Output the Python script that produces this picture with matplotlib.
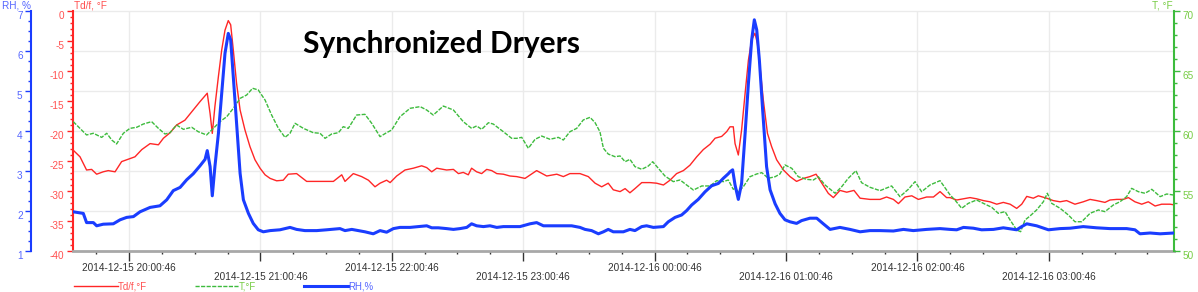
import matplotlib
matplotlib.use("Agg")
import matplotlib.pyplot as plt
import matplotlib.dates as mdates
import pandas as pd
from matplotlib.ticker import MultipleLocator
from matplotlib.transforms import blended_transform_factory

plt.rcParams["font.family"] = ["Liberation Sans", "DejaVu Sans"]
plt.rcParams["axes.unicode_minus"] = False

# logger readings, time in minutes after 2014-12-15 20:00
rh_min = [-24.7, -20.1, -18.6, -15.5, -14.0, -11.0, -6.4, -3.3, -0.3, 2.8, 5.8, 10.4, 14.9, 18.0,
          21.0, 24.1, 27.1, 30.1, 33.2, 35.5, 36.5, 37.8, 38.8, 40.0, 41.6, 43.1, 44.6, 46.1, 47.2,
          48.4, 49.9, 51.5, 53.0, 55.3, 57.5, 59.8, 62.1, 65.2, 69.7, 74.3,
          77.3, 81.1, 86.5, 91.0, 97.1, 99.4, 102.5, 105.5, 108.5, 112.3, 115.4, 118.4, 121.5, 124.5,
          129.1, 132.9, 136.7, 139.0, 142.0, 145.8, 148.9, 151.9, 155.0, 157.2, 159.5, 162.6, 165.6,
          168.7, 171.7,
          174.7, 179.3, 183.9, 186.9, 190.0, 194.5, 199.1, 202.9, 206.7, 209.0, 212.0, 215.1, 217.4,
          219.6, 221.9, 226.5, 229.5, 231.8, 234.9, 237.1, 240.2, 244.8, 247.0, 250.1, 253.1, 255.4,
          257.7, 260.7, 263.8, 266.8, 269.9, 272.2, 274.4,
          275.2, 276.4, 277.5, 279.0, 280.5, 282.1, 283.6, 285.1, 286.3, 287.4, 288.6, 290.1, 291.9,
          293.5, 295.8, 298.0, 300.3, 302.6, 305.6, 307.9, 311.7, 314.8, 317.8, 320.9, 325.4, 330.0,
          334.6, 339.1, 343.7, 349.8, 354.4, 358.9, 365.0, 371.1,
          375.7, 378.7, 381.8, 386.3, 390.1, 395.5, 400.0, 406.1, 408.4, 410.7, 415.2, 420.6, 425.9,
          430.5, 436.5, 442.6, 448.7, 456.3, 460.1, 462.4, 467.0, 471.6, 477.9]
rh = [1.98, 1.94, 1.71, 1.71, 1.63, 1.67, 1.68, 1.78, 1.84, 1.86, 1.98, 2.09, 2.13, 2.28,
      2.51, 2.59, 2.78, 2.93, 3.13, 3.29, 3.51, 3.11, 2.38, 3.11, 3.94, 4.94, 5.94, 6.44, 6.28,
      5.36, 4.19, 2.94, 2.28, 1.94, 1.69, 1.53, 1.48, 1.51, 1.53, 1.59,
      1.54, 1.51, 1.51, 1.53, 1.56, 1.51, 1.54, 1.51, 1.48, 1.43, 1.51, 1.47, 1.56, 1.59,
      1.59, 1.61, 1.63, 1.58, 1.58, 1.56, 1.54, 1.56, 1.59, 1.68, 1.63, 1.61, 1.63,
      1.59, 1.61,
      1.61, 1.61, 1.68, 1.71, 1.63, 1.63, 1.63, 1.63, 1.59, 1.54, 1.51, 1.43, 1.48,
      1.54, 1.48, 1.48, 1.54, 1.51, 1.61, 1.63, 1.59, 1.61, 1.73, 1.84, 1.90, 2.01,
      2.15, 2.29, 2.48, 2.63, 2.69, 2.82, 2.93,
      2.98, 3.03, 2.65, 2.29, 2.69, 3.94, 5.19, 6.28, 6.78, 6.53, 5.78, 4.53, 3.11,
      2.53, 2.18, 1.94, 1.78, 1.73, 1.69, 1.76, 1.82, 1.82, 1.68, 1.54, 1.59, 1.54,
      1.48, 1.51, 1.51, 1.50, 1.54, 1.51, 1.54, 1.56,
      1.54, 1.53, 1.59, 1.57, 1.53, 1.54, 1.58, 1.53, 1.61, 1.68, 1.63, 1.53, 1.56,
      1.57, 1.61, 1.58, 1.56, 1.56, 1.53, 1.43, 1.45, 1.43, 1.45]

td_min = [-24.7, -21.6, -18.6, -16.3, -14.0, -11.0, -8.7, -5.6, -2.6, 0.5, 3.5, 6.6, 10.4, 14.2,
          16.5, 19.5, 22.5, 26.3, 29.4, 33.2, 36.5, 37.8, 38.8, 40.0, 41.6, 43.1, 44.6, 46.1, 47.2,
          48.4, 49.9, 51.5, 53.7, 56.0, 58.3, 60.6, 62.9, 65.2, 68.2, 71.2, 73.5,
          77.3, 81.9, 86.5, 91.0, 94.1, 97.9, 99.4, 103.2, 107.0, 110.1, 113.1, 115.4, 118.4, 120.0,
          123.0, 126.8, 130.6, 134.4, 136.7, 139.0, 141.3, 145.8, 148.9, 151.2, 153.4, 155.7, 157.2,
          159.5, 161.8, 164.1, 166.4, 168.7, 171.7,
          174.7, 177.8, 181.6, 186.9, 191.5, 196.1, 199.1, 202.1, 206.7, 210.5, 213.6, 216.6, 219.6,
          221.9, 225.0, 227.3, 229.5, 231.8, 234.9, 238.7, 241.7, 244.8, 247.8, 250.8, 253.9, 256.9,
          260.0, 263.0, 266.1, 268.4, 271.4, 273.7, 275.2,
          276.7, 277.5, 279.0, 280.5, 282.1, 283.6, 285.1, 286.6, 287.7, 288.9, 290.4, 292.3, 294.2,
          296.5, 299.6, 302.6, 305.6, 308.7, 311.7, 314.5, 317.1, 320.1, 322.4, 325.4, 328.5, 331.8,
          334.6, 339.1, 343.7, 346.7, 349.8, 352.1, 355.1, 358.2, 361.2, 365.0, 368.1, 371.1, 374.1,
          375.7, 378.7, 381.8, 384.8, 387.8, 390.9, 393.9, 397.0, 400.0, 403.1, 406.1, 408.4, 410.7,
          413.7, 416.0, 419.8, 422.8, 425.9, 428.9, 432.7, 436.5, 439.6, 442.6, 446.4, 448.7, 451.8,
          454.8, 457.1, 460.1, 463.2, 466.2, 469.3, 472.3, 476.1, 477.9]
td = [-23.2, -24.3, -26.5, -26.4, -27.2, -26.8, -26.6, -26.8, -25.1, -24.7, -24.3, -23.1, -22.1, -22.3,
      -21.2, -20.3, -19.0, -18.2, -16.8, -15.1, -13.7, -17.1, -20.4, -15.9, -10.9, -6.5, -3.2, -1.6, -2.3,
      -6.5, -12.1, -16.5, -19.8, -22.6, -24.8, -26.2, -27.3, -27.9, -28.3, -28.2, -27.2,
      -27.1, -28.4, -28.4, -28.4, -28.4, -27.3, -28.4, -27.1, -27.6, -28.2, -29.3, -28.7, -28.2, -28.6,
      -27.5, -26.5, -26.2, -25.8, -26.1, -26.8, -26.2, -26.5, -26.4, -27.1, -26.9, -27.3, -26.2,
      -26.8, -27.1, -26.4, -26.6, -27.1, -27.2,
      -27.5, -27.6, -27.9, -26.6, -27.5, -27.2, -27.6, -27.1, -27.1, -27.6, -28.7, -29.3, -28.7,
      -29.8, -30.1, -29.6, -30.3, -29.6, -28.6, -28.6, -28.7, -29.0, -28.2, -27.1, -26.6, -25.7,
      -24.3, -23.1, -22.2, -21.2, -20.9, -20.1, -19.3,
      -19.3, -22.1, -24.0, -19.8, -13.7, -8.2, -4.8, -3.7, -5.4, -9.3, -14.8, -20.4, -22.6,
      -24.8, -26.5, -27.6, -28.4, -27.9, -27.6, -27.2, -28.7, -30.4, -31.1, -29.9, -30.2, -29.9,
      -31.2, -31.4, -31.4, -31.0, -31.4, -32.1, -31.0, -30.8, -31.4, -31.0, -31.0, -30.1, -31.1,
      -31.1, -31.5, -31.3, -31.1, -31.3, -31.6, -31.8, -32.2, -31.9, -32.2, -32.9, -32.2, -30.9,
      -31.2, -30.8, -31.2, -31.6, -31.8, -31.6, -32.2, -31.8, -31.4, -31.6, -31.9, -31.5, -31.4,
      -31.4, -31.1, -31.8, -32.2, -31.8, -32.5, -32.2, -32.2, -32.3]

temp_min = [-24.7, -21.6, -18.6, -15.5, -11.7, -9.4, -7.1, -4.9, -1.8, 1.2, 4.3, 7.3, 11.1, 14.2,
            17.2, 19.5, 22.5, 25.6, 29.4, 32.4, 36.2, 39.3, 42.3, 45.4, 48.4, 51.5, 54.5, 57.2, 59.8,
            62.9, 65.9, 69.0, 72.0, 74.3,
            76.6, 80.4, 84.9, 88.0, 90.3, 93.3, 96.4, 98.6, 100.9, 104.7, 108.5, 111.6, 115.4, 118.4,
            120.7, 124.5, 129.1, 133.7, 136.7, 139.7, 144.3, 148.9, 153.4, 157.2, 159.5, 161.8, 164.9,
            167.1, 171.7, 175.5,
            177.8, 180.1, 183.1, 186.2, 189.2, 193.0, 196.8, 199.1, 202.1, 205.2, 208.2, 211.3, 213.6,
            215.8, 217.4, 219.6, 222.7, 225.0, 227.3, 229.5, 231.8, 234.9, 237.9, 239.9, 242.5, 245.5,
            249.3, 252.4, 255.4, 258.5, 262.3, 266.1, 269.1, 272.2, 274.4, 276.7,
            277.5, 279.0, 281.3, 284.3, 287.4, 289.7, 292.7, 295.8, 298.0, 300.3, 303.4, 306.4, 310.2,
            313.3, 315.5, 318.6, 323.2, 326.2, 329.2, 332.7, 335.3, 339.1, 343.7, 349.0, 352.8, 356.6,
            359.7, 362.7, 366.5, 371.1, 374.1,
            375.7, 377.9, 381.0, 384.0, 387.8, 390.9, 394.7, 397.7, 400.8, 403.1, 406.1, 407.9, 409.9,
            412.2, 415.2, 418.3, 420.1, 422.1, 425.9, 429.7, 432.7, 435.8, 439.6, 443.4, 446.4, 450.2,
            453.3, 456.3, 458.6, 461.7, 464.7, 467.8, 471.6, 474.6, 477.6]
temp = [60.78, 60.22, 59.67, 59.81, 59.47, 59.81, 59.25, 58.92, 59.81, 60.22, 60.31, 60.58, 60.78, 60.22,
        59.75, 59.86, 60.5, 60.14, 60.31, 59.94, 59.67, 60.22, 60.78, 61.19, 61.89, 62.72, 63.0, 63.56, 63.42,
        62.58, 61.33, 60.22, 59.47, 59.81,
        60.64, 60.22, 59.86, 59.81, 59.39, 59.75, 59.86, 60.36, 60.22, 61.33, 61.39, 60.64, 59.53, 59.86,
        60.08, 61.19, 61.89, 62.03, 61.75, 61.33, 62.08, 61.75, 60.78, 60.22, 60.42, 60.14, 60.69,
        60.58, 59.94, 59.39,
        59.39, 59.47, 58.56, 59.31, 59.58, 59.31, 59.47, 59.25, 59.94, 60.22, 60.92, 61.14, 60.69,
        59.94, 58.56, 58.08, 57.86, 57.92, 57.44, 57.64, 57.03, 56.81, 57.08, 57.44, 56.89, 56.25,
        55.78, 55.92, 55.5, 55.08, 55.42, 55.42, 55.86, 55.78, 55.92, 55.14,
        55.22, 54.94, 55.36, 56.19, 56.42, 56.53, 56.06, 56.19, 56.42, 57.17, 56.89, 56.19, 55.97,
        55.92, 56.19, 55.5, 54.81, 55.36, 56.06, 56.69, 55.69, 55.31, 55.03, 55.42, 54.53, 55.14,
        55.78, 54.94, 55.5, 55.86, 55.08,
        54.67, 54.25, 53.56, 53.97, 54.25, 53.97, 53.64, 53.14, 53.28, 52.58, 51.75, 51.61, 52.58,
        52.92, 53.42, 54.11, 54.81, 53.97, 53.56, 53.0, 52.44, 52.44, 53.14, 53.42, 53.28, 53.83,
        54.11, 54.53, 55.22, 54.94, 54.81, 55.14, 54.53, 54.75, 54.67]

t0 = pd.Timestamp("2014-12-15 20:00:00")
x_start = pd.Timestamp("2014-12-15 19:35:12")
x_end = pd.Timestamp("2014-12-16 03:57:56")
hour_ticks = pd.date_range("2014-12-15 20:00:46", periods=8, freq="h")
quarter_ticks = pd.date_range("2014-12-15 19:45:46", "2014-12-16 03:45:46", freq="15min")


def to_time(minutes):
    return (t0 + pd.to_timedelta(minutes, unit="min")).to_pydatetime()


RED, GREEN, BLUE = "#ff2626", "#3dbb3d", "#1a3dff"
RED_TXT, GREEN_TXT, BLUE_TXT = "#ff5050", "#77cc44", "#5566ff"
FS = 7.2

W, H = 1198, 292
fig = plt.figure(figsize=(W / 100, H / 100), dpi=100)
ax = fig.add_axes([73 / W, 41 / H, 1101 / W, 240 / H])
ax_t = ax.twinx()
ax_rh = ax.twinx()

l_td, = ax.plot(to_time(td_min), td, color=RED, lw=1, label="Td/f,°F")
l_t, = ax_t.plot(to_time(temp_min), temp, color=GREEN, lw=1, dashes=(3, 1), label="T,°F")
l_rh, = ax_rh.plot(to_time(rh_min), rh, color=BLUE, lw=2.2, label="RH,%")

ax.set_ylim(-40, 0)
ax_t.set_ylim(50, 70)
ax_rh.set_ylim(1, 7)
ax.set_xlim(x_start, x_end)

# grid: hourly verticals, horizontals on the RH units
ax.set_xticks(hour_ticks.to_pydatetime())
ax.set_xticks(quarter_ticks.to_pydatetime(), minor=True)
ax.xaxis.set_major_formatter(mdates.DateFormatter("%Y-%m-%d %H:%M:%S"))
ax.grid(axis="x", which="major", color="#ebebeb", lw=1)
grid_tr = blended_transform_factory(ax.transAxes, ax_rh.transData)
ax.hlines([2, 3, 4, 5, 6, 7], 0, 1, transform=grid_tr, color="#ebebeb", lw=1, clip_on=False, zorder=0)

for a in (ax, ax_t, ax_rh):
    for s in a.spines.values():
        s.set_visible(False)
ax.spines["bottom"].set_visible(True)
ax.spines["bottom"].set_color("#a8a8a8")
ax.spines["bottom"].set_linewidth(2)
ax.spines["left"].set_visible(True)
ax.spines["left"].set_color(RED)
ax.spines["left"].set_linewidth(1.5)
ax_t.spines["right"].set_visible(True)
ax_t.spines["right"].set_color(GREEN)
ax_t.spines["right"].set_linewidth(1.5)
ax_rh.yaxis.set_ticks_position("left")
ax_rh.spines["left"].set_visible(True)
ax_rh.spines["left"].set_position(("axes", -42 / 1101))
ax_rh.spines["left"].set_color(BLUE)
ax_rh.spines["left"].set_linewidth(1.5)

ax.yaxis.set_major_locator(MultipleLocator(5))
ax.yaxis.set_minor_locator(MultipleLocator(1))
ax_t.yaxis.set_major_locator(MultipleLocator(5))
ax_t.yaxis.set_minor_locator(MultipleLocator(1))
ax_rh.yaxis.set_major_locator(MultipleLocator(1))
ax_rh.yaxis.set_minor_locator(MultipleLocator(0.25))

for a, c, tc in ((ax, RED, RED_TXT), (ax_t, GREEN, GREEN_TXT), (ax_rh, BLUE, BLUE_TXT)):
    a.tick_params(axis="y", which="major", color=c, labelcolor=tc, labelsize=FS, length=4, width=1, pad=2)
    a.tick_params(axis="y", which="minor", color=c, length=2.5, width=1)
    plt.setp(a.get_yticklabels(), va="top")

ax.tick_params(axis="x", which="major", color="#333333", labelcolor="#333333", labelsize=FS,
               length=7, width=1, pad=1.5)
ax.tick_params(axis="x", which="minor", color="#333333", length=2.5, width=1)
for i, tk in enumerate(ax.xaxis.get_major_ticks()):
    if i % 2:
        tk.tick1line.set_markersize(14.0)
        tk.set_pad(8.2)

fig.text(2 / W, 1 - 5 / H, "RH, %", color=BLUE_TXT, fontsize=FS, va="center")
fig.text(74 / W, 1 - 5 / H, "Td/f, °F", color=RED_TXT, fontsize=FS, va="center")
fig.text(1173 / W, 1 - 5 / H, "T, °F", color=GREEN_TXT, fontsize=FS, va="center", ha="right")
fig.text(441 / W, 1 - 44 / H, "Synchronized Dryers", fontsize=21.5, fontweight="bold",
         family="Lato", ha="center", va="center")

leg = fig.legend(handles=[l_td, l_t, l_rh], loc="center left", bbox_to_anchor=(74 / W, 1 - 286.5 / H),
                 ncol=3, frameon=False, fontsize=6.9, handlelength=4.6, handletextpad=0.0,
                 columnspacing=5.0, borderpad=0, borderaxespad=0)
for txt, c in zip(leg.get_texts(), (RED_TXT, GREEN_TXT, BLUE_TXT)):
    txt.set_color(c)

fig.savefig("out.png", dpi=100)
